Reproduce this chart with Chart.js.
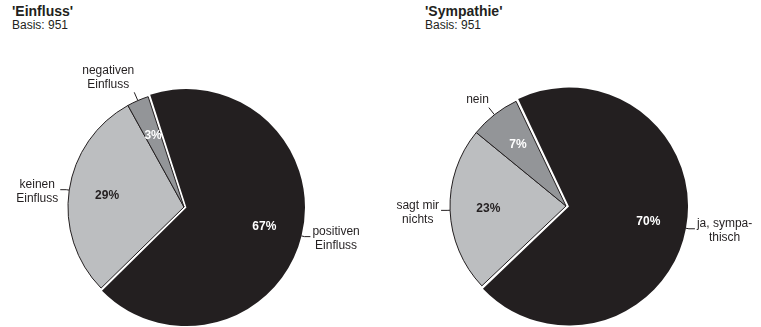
<!DOCTYPE html>
<html>
<head>
<meta charset="utf-8">
<script src="https://cdn.jsdelivr.net/npm/chart.js@4.4.1/dist/chart.umd.min.js"></script>
<style>
  html, body { margin: 0; padding: 0; background: #fff; }
  #page { position: relative; width: 761px; height: 327px; overflow: hidden; font-family: "Liberation Sans", Arial, sans-serif; color: #231f20; }
  .panel { position: absolute; top: 0; height: 327px; }
  .head { position: absolute; line-height: 14px; }
  .head b { font-size: 14px; display: block; }
  .head span { font-size: 12px; display: block; }
</style>
</head>
<body>
<div id="page">
  <div class="head" style="left:12px; top:4px;"><b>'Einfluss'</b><span>Basis: 951</span></div>
  <div class="head" style="left:425px; top:4px;"><b>'Sympathie'</b><span>Basis: 951</span></div>
  <div class="panel" style="left:0; width:380px;"><canvas id="pie_einfluss"></canvas></div>
  <div class="panel" style="left:380px; width:381px;"><canvas id="pie_sympathie"></canvas></div>
</div>
<script>
"use strict";

// Daten
const einfluss_labels = [["positiven", "Einfluss"], ["keinen", "Einfluss"], ["negativen", "Einfluss"]];
const einfluss_values = [67, 29, 3];

const sympathie_labels = [["ja, sympa-", "thisch"], ["sagt mir", "nichts"], ["nein"]];
const sympathie_values = [70, 23, 7];

const slice_colors = ["#231f20", "#bcbec0", "#939598"];
const pct_colors = ["#ffffff", "#231f20", "#ffffff"];

Chart.defaults.font.family = "'Liberation Sans', Arial, sans-serif";
Chart.defaults.font.size = 12;

// Beschriftungen innen + aussen mit Fuehrungslinie
const pie_labels_plugin = {
  id: "pie_labels",
  afterDraw(chart) {
    const ctx = chart.ctx;
    const meta = chart.getDatasetMeta(0);
    const ds = chart.data.datasets[0];
    ctx.save();
    meta.data.forEach((arc, i) => {
      const p = arc.getProps(["x", "y", "startAngle", "endAngle", "outerRadius"], true);
      const mid = (p.startAngle + p.endAngle) / 2;
      const off = (ds.offset[i] || 0) / 2;
      const cx = p.x + Math.cos(mid) * off;
      const cy = p.y + Math.sin(mid) * off;
      const r = p.outerRadius;

      // Prozentwert
      ctx.font = "bold 12px 'Liberation Sans', Arial, sans-serif";
      ctx.fillStyle = pct_colors[i];
      ctx.textAlign = "center";
      ctx.textBaseline = "middle";
      ctx.fillText(ds.data[i] + "%", cx + Math.cos(mid) * r * 0.67, cy + Math.sin(mid) * r * 0.67);

      // Fuehrungslinie
      const ex = cx + Math.cos(mid) * r;
      const ey = cy + Math.sin(mid) * r;
      const lines = chart.data.labels[i];
      ctx.font = "12px 'Liberation Sans', Arial, sans-serif";
      ctx.fillStyle = "#231f20";
      ctx.strokeStyle = "#231f20";
      ctx.lineWidth = 1;
      const w = Math.max(...lines.map((l) => ctx.measureText(l).width));
      const lh = 14;
      const h = lines.length * lh;
      let bx, by;
      ctx.beginPath();
      ctx.moveTo(ex, ey);
      if (Math.abs(Math.sin(mid)) > 0.7) {
        // nach oben
        const ax = cx + Math.cos(mid) * (r + 9);
        const ay = cy + Math.sin(mid) * (r + 9);
        ctx.lineTo(ax, ay);
        bx = ax - w;
        by = ay - h;
      } else {
        const side = Math.cos(mid) > 0 ? 1 : -1;
        const ax = cx + Math.cos(mid) * (r + 3);
        const ay = cy + Math.sin(mid) * (r + 3);
        ctx.lineTo(ax, ay);
        ctx.lineTo(ax + side * 6, ay);
        bx = side > 0 ? ax + 8 : ax - 8 - w;
        by = ay - h / 2 + 3;
      }
      ctx.stroke();
      ctx.textAlign = "center";
      ctx.textBaseline = "top";
      lines.forEach((l, k) => ctx.fillText(l, bx + w / 2, by + k * lh));
    });
    ctx.restore();
  },
};

function make_pie(canvas_id, labels, values, rotation, dark_offset, padding) {
  const data = {
    labels: labels,
    datasets: [
      {
        data: values,
        backgroundColor: slice_colors,
        borderColor: ["#231f20", "#231f20", "#231f20"],
        borderWidth: [0, 1, 1],
        offset: [dark_offset, 0, 0],
      },
    ],
  };
  const config = {
    type: "pie",
    data: data,
    options: {
      responsive: true,
      maintainAspectRatio: false,
      animation: false,
      rotation: rotation,
      radius: 116,
      layout: { padding: padding },
      plugins: {
        legend: { display: false },
        tooltip: { enabled: false },
      },
    },
    plugins: [pie_labels_plugin],
  };
  return new Chart(document.getElementById(canvas_id), config);
}

make_pie("pie_einfluss", einfluss_labels, einfluss_values, -18, 10, { left: 0, right: 12, top: 87, bottom: 0 });
make_pie("pie_sympathie", sympathie_labels, sympathie_values, -25.5, 12, { left: 0, right: 9, top: 85, bottom: 0 });
</script>
</body>
</html>
